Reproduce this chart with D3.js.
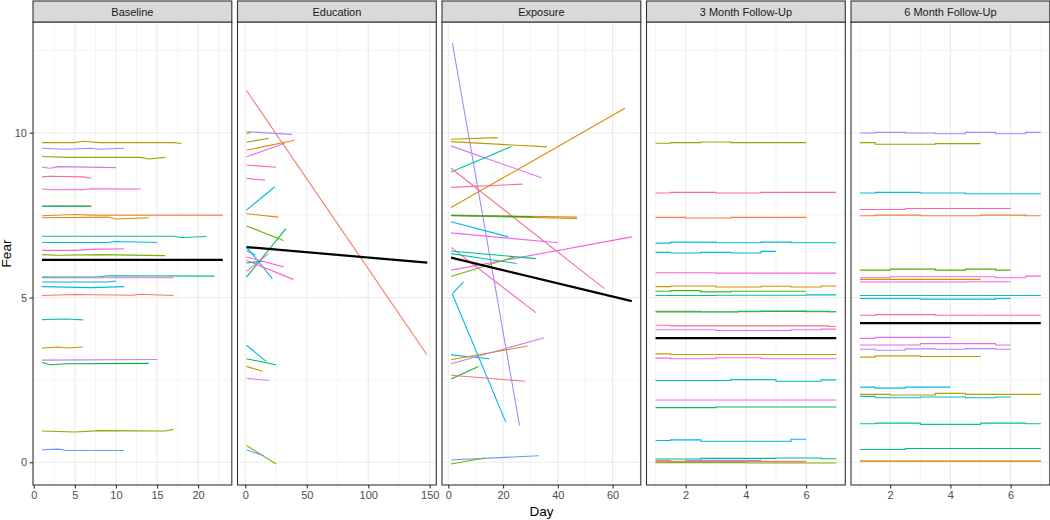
<!DOCTYPE html>
<html>
<head>
<meta charset="utf-8">
<script src="https://cdn.jsdelivr.net/npm/d3@7"></script>
<style>
  body { margin: 0; background: #fff; }
  svg { display: block; font-family: "Liberation Sans", Arial, sans-serif; }
  .grid-major { stroke: #ebebeb; stroke-width: 1.1; }
  .grid-minor { stroke: #ebebeb; stroke-width: 0.55; }
  .panel-border { fill: none; stroke: #333; stroke-width: 1.1; }
  .strip { fill: #d9d9d9; stroke: #333; stroke-width: 1.1; }
  .strip-label { font-size: 11px; fill: #1a1a1a; }
  .axis text { font-size: 11px; fill: #4d4d4d; }
  .axis line { stroke: #333; stroke-width: 1.1; }
  .axis path { display: none; }
  .title { font-size: 13.5px; fill: #000; }
  .pline { fill: none; stroke-width: 1.1; }
  .mean { fill: none; stroke: #000; stroke-width: 2.2; }
</style>
</head>
<body>
<div id="chart"></div>
<script>
// facets in display order
const phases = ['Baseline', 'Education', 'Exposure', '3 Month Follow-Up', '6 Month Follow-Up'];
const xTicks = [[0, 5, 10, 15, 20], [0, 50, 100, 150], [0, 20, 40, 60], [2, 4, 6], [2, 4, 6]];
const yTicks = [0, 5, 10];
const nParticipants = 48;

// [participant id, [[day, fear], ...]]
const baselineLines = [
  [9, [[1, 9.70], [5, 9.70], [6, 9.74], [8, 9.70], [17, 9.70], [18, 9.67]]],
  [35, [[1, 9.53], [4, 9.50], [7, 9.53], [8, 9.50], [11, 9.53]]],
  [12, [[1, 9.28], [4, 9.25], [13, 9.25], [14, 9.20], [16, 9.25]]],
  [39, [[1, 8.95], [2, 8.92], [3, 8.97], [10, 8.94]]],
  [46, [[1, 8.66], [2, 8.68], [6, 8.66], [7, 8.62]]],
  [43, [[1, 8.30], [2, 8.27], [6, 8.27], [7, 8.30], [13, 8.29]]],
  [5, [[1, 7.78], [7, 7.78]]],
  [24, [[1, 7.76], [2, 7.76], [3, 7.77], [7, 7.76]]],
  [3, [[1, 7.48], [5, 7.52], [7, 7.50], [23, 7.50]]],
  [7, [[1, 7.42], [9, 7.44], [10, 7.38], [14, 7.42]]],
  [22, [[1, 6.86], [17, 6.86], [18, 6.82], [21, 6.85]]],
  [27, [[1, 6.67], [9, 6.67], [10, 6.70], [15, 6.67]]],
  [42, [[1, 6.43], [5, 6.43], [7, 6.46], [11, 6.48]]],
  [13, [[1, 6.30], [3, 6.28], [8, 6.30], [16, 6.27]]],
  [40, [[1, 5.60], [17, 5.60]]],
  [20, [[1, 5.62], [8, 5.63], [9, 5.66], [22, 5.65]]],
  [31, [[1, 5.47], [9, 5.47], [10, 5.50]]],
  [28, [[1, 5.33], [7, 5.30], [11, 5.33]]],
  [1, [[1, 5.06], [5, 5.09], [12, 5.07], [13, 5.10], [17, 5.06]]],
  [25, [[1, 4.33], [4, 4.35], [6, 4.32]]],
  [7, [[1, 3.47], [3, 3.50], [4, 3.47], [6, 3.50]]],
  [37, [[1, 3.10], [15, 3.12]]],
  [17, [[1, 3.03], [2, 2.96], [4, 2.99], [14, 3.00]]],
  [12, [[1, 0.95], [5, 0.92], [8, 0.96], [16, 0.95], [17, 1.00]]],
  [33, [[1, 0.38], [3, 0.40], [4, 0.36], [11, 0.36]]]
];

const educationLines = [
  [1, [[1, 11.28], [147.6, 3.27]]],
  [35, [[1, 10.03], [38, 9.95]]],
  [9, [[1, 9.97], [5, 10.02]]],
  [12, [[1, 9.71], [19, 9.83]]],
  [5, [[1, 9.47], [40, 9.77]]],
  [39, [[1, 9.27], [32, 9.68]]],
  [46, [[1, 9.02], [25, 8.95]]],
  [43, [[1, 8.61], [16, 8.56]]],
  [25, [[1, 7.65], [24, 8.36]]],
  [4, [[1, 7.54], [27, 7.44]]],
  [14, [[1, 7.17], [31, 6.73]]],
  [18, [[1, 5.62], [33, 7.09]]],
  [28, [[1, 6.53], [22, 5.57]]],
  [42, [[1, 6.23], [31, 5.93]]],
  [44, [[1, 6.13], [39, 5.55]]],
  [40, [[1, 5.80], [19, 6.33]]],
  [20, [[1, 6.05], [14, 6.10]]],
  [29, [[1, 6.42], [8, 6.30]]],
  [27, [[1, 3.55], [17, 3.06]]],
  [17, [[1, 3.14], [25, 2.96]]],
  [7, [[1, 2.91], [14, 2.76]]],
  [37, [[1, 2.55], [19, 2.48]]],
  [12, [[1, 0.51], [25, -0.05]]],
  [33, [[1, 0.38], [15, 0.20]]]
];

const exposureLines = [
  [35, [[1.5, 12.72], [26, 1.12]]],
  [9, [[1, 9.80], [18, 9.85]]],
  [8, [[1, 9.73], [36, 9.57]]],
  [39, [[1, 9.60], [34, 8.63]]],
  [23, [[1, 8.81], [23, 9.58]]],
  [5, [[1, 7.73], [64.5, 10.74]]],
  [47, [[1, 8.92], [57, 5.27]]],
  [46, [[1, 8.34], [27, 8.44]]],
  [3, [[1, 7.50], [47, 7.44]]],
  [7, [[1, 7.48], [47, 7.40]]],
  [17, [[1, 7.49], [31, 7.45]]],
  [29, [[1, 7.30], [22, 6.84]]],
  [40, [[1, 6.96], [40, 6.66]]],
  [43, [[1, 6.52], [32, 4.54]]],
  [42, [[1, 5.83], [67, 6.84]]],
  [21, [[1, 6.41], [32, 6.18]]],
  [23, [[1, 6.33], [25, 6.03]]],
  [13, [[1, 5.64], [24, 6.23]]],
  [28, [[1.5, 5.12], [5.5, 5.47]]],
  [29, [[1.5, 5.10], [21, 1.22]]],
  [25, [[1, 3.26], [15, 3.14]]],
  [7, [[1, 3.11], [29, 3.53]]],
  [37, [[1, 2.99], [35, 3.78]]],
  [17, [[1, 2.53], [11, 2.91]]],
  [1, [[1, 2.64], [28, 2.46]]],
  [33, [[1, 0.07], [33, 0.20]]],
  [12, [[1, -0.05], [13.4, 0.13]]]
];

const month3Lines = [
  [12, [[1, 9.68], [2, 9.70], [3, 9.72], [4, 9.70], [6, 9.70]]],
  [46, [[1, 8.17], [2, 8.19], [4, 8.17], [5, 8.19], [7, 8.19]]],
  [3, [[1, 7.43], [3, 7.41], [4, 7.43], [6, 7.43]]],
  [26, [[1, 6.65], [2, 6.68], [4, 6.66], [5, 6.68], [6, 6.66], [7, 6.66]]],
  [28, [[1, 6.37], [2, 6.35], [3, 6.37], [4, 6.35], [5, 6.40]]],
  [42, [[1, 5.75], [5, 5.74], [7, 5.74]]],
  [7, [[1, 5.33], [2, 5.35], [4, 5.32], [5, 5.34], [6, 5.32], [7, 5.35]]],
  [15, [[1, 5.19], [2, 5.21], [3, 5.17], [4, 5.19], [6, 5.19]]],
  [23, [[1, 5.06], [5, 5.07], [7, 5.08]]],
  [8, [[1, 4.58], [4, 4.57], [5, 4.59], [7, 4.57]]],
  [20, [[1, 4.56], [6.5, 4.58], [7, 4.57]]],
  [47, [[1, 4.16], [2, 4.14], [6.5, 4.14], [7, 4.12]]],
  [39, [[1, 4.02], [5, 4.00], [6, 4.02], [7, 4.04]]],
  [7, [[1, 3.29], [2, 3.27], [4, 3.27], [7, 3.27]]],
  [41, [[1, 3.16], [2, 3.14], [4, 3.17], [5, 3.14], [7, 3.14]]],
  [24, [[1, 2.48], [3, 2.48], [4, 2.51], [6, 2.46], [7, 2.50]]],
  [40, [[1, 1.89], [7, 1.89]]],
  [18, [[1, 1.66], [5, 1.68], [7, 1.68]]],
  [29, [[1, 0.66], [2, 0.68], [3, 0.64], [5, 0.64], [6, 0.70]]],
  [20, [[1, 0.10], [4, 0.12], [6, 0.13], [7, 0.11]]],
  [35, [[1, 0.03], [3, 0.06], [6, 0.03]]],
  [1, [[1, 0.05], [2, 0.02], [6, 0.02]]],
  [12, [[1, -0.01], [7, -0.02]]]
];

const month6Lines = [
  [35, [[1, 9.99], [2, 10.01], [3, 9.99], [4, 9.97], [5, 10.01], [6, 9.97], [7, 10.01]]],
  [12, [[1, 9.70], [2, 9.65], [5, 9.67]]],
  [27, [[1, 8.17], [2, 8.19], [4, 8.17], [5, 8.15], [7, 8.15]]],
  [45, [[1, 7.67], [4, 7.70], [6, 7.70]]],
  [3, [[1, 7.48], [2, 7.50], [4, 7.48], [6, 7.50], [7, 7.48]]],
  [15, [[1, 5.83], [3, 5.86], [4, 5.83], [5, 5.86], [6, 5.83]]],
  [41, [[1, 5.60], [3, 5.63], [5, 5.63], [6, 5.60], [7, 5.65]]],
  [7, [[1, 5.55], [5, 5.55]]],
  [43, [[1, 5.47], [3, 5.47], [6, 5.48]]],
  [23, [[1, 5.06], [7, 5.06]]],
  [29, [[1, 4.97], [5, 4.95], [6, 4.97]]],
  [47, [[1, 4.46], [2, 4.48], [5, 4.46], [7, 4.46]]],
  [38, [[1, 3.76], [2, 3.79], [4, 3.79]]],
  [41, [[1, 3.56], [5, 3.60], [6, 3.56]]],
  [36, [[1, 3.43], [2, 3.40], [3, 3.44], [4, 3.43], [5, 3.45], [6, 3.43]]],
  [7, [[1, 3.19], [2, 3.23], [4, 3.21], [5, 3.21]]],
  [28, [[1, 2.28], [2, 2.25], [3, 2.28], [4, 2.28]]],
  [9, [[1, 2.06], [3, 2.04], [4, 2.09], [5, 2.06], [7, 2.06]]],
  [25, [[1, 2.00], [2, 1.96], [4, 1.98], [5, 1.96], [6, 1.98]]],
  [22, [[1, 1.17], [2, 1.19], [4, 1.15], [6, 1.19], [7, 1.17]]],
  [19, [[1, 0.39], [4, 0.42], [7, 0.42]]],
  [10, [[1, 0.04], [7, 0.04]]],
  [4, [[1, 0.03], [7, 0.03]]]
];

// group-level fitted trend per phase
const meanLines = [
  [[1, 6.14], [23, 6.14]],
  [[1, 6.53], [148, 6.06]],
  [[1, 6.21], [67, 4.89]],
  [[1, 3.77], [7, 3.77]],
  [[1, 4.22], [7, 4.22]]
];

const phaseLines = [baselineLines, educationLines, exposureLines, month3Lines, month6Lines];

// ggplot-style hue palette (polar Luv, c=100, l=65)
function hueColor(h) {
  const L = 65, C = 100, rad = h * Math.PI / 180;
  const u = C * Math.cos(rad), v = C * Math.sin(rad);
  const Xn = 95.047, Yn = 100, Zn = 108.883;
  const den = Xn + 15 * Yn + 3 * Zn;
  const un = 4 * Xn / den, vn = 9 * Yn / den;
  const Y = Math.pow((L + 16) / 116, 3);
  const up = u / (13 * L) + un, vp = v / (13 * L) + vn;
  const X = Y * 9 * up / (4 * vp);
  const Z = Y * (12 - 3 * up - 20 * vp) / (4 * vp);
  const lin = [
    3.2404542 * X - 1.5371385 * Y - 0.4985314 * Z,
    -0.9692660 * X + 1.8760108 * Y + 0.0415560 * Z,
    0.0556434 * X - 0.2040259 * Y + 1.0572252 * Z
  ];
  const [r, g, b] = lin.map(c => {
    c = Math.max(0, Math.min(1, c));
    c = c <= 0.0031308 ? 12.92 * c : 1.055 * Math.pow(c, 1 / 2.4) - 0.055;
    return Math.round(c * 255);
  });
  return d3.rgb(r, g, b).formatHex();
}
const color = id => hueColor(15 + (id - 1) * 360 / nParticipants);

const W = 1050, H = 520;
const plotLeft = 33, plotTop = 22, plotBottom = 485, stripTop = 1;
const step = 204.5, panelW = 198.8;

const svg = d3.select('#chart').append('svg')
  .attr('width', W)
  .attr('height', H);

svg.append('rect').attr('width', W).attr('height', H).attr('fill', '#fff');

// shared y scale with ggplot's 5% expansion
const allY = phaseLines.flatMap(ls => ls.flatMap(l => l[1].map(p => p[1])))
  .concat(meanLines.flatMap(m => m.map(p => p[1])));
const yMin = d3.min(allY), yMax = d3.max(allY);
const yPad = (yMax - yMin) * 0.05;
const y = d3.scaleLinear().domain([yMin - yPad, yMax + yPad]).range([plotBottom, plotTop]);

phases.forEach((name, i) => {
  const x0 = plotLeft + i * step;
  const lines = phaseLines[i];
  const days = lines.flatMap(l => l[1].map(p => p[0])).concat(meanLines[i].map(p => p[0]));
  const xMin = d3.min(days), xMax = d3.max(days);
  const xPad = (xMax - xMin) * 0.05;
  const x = d3.scaleLinear().domain([xMin - xPad, xMax + xPad]).range([x0, x0 + panelW]);

  const g = svg.append('g');

  // grid: minor halfway between majors
  const xt = xTicks[i];
  const dx = xt[1] - xt[0];
  const xMinor = d3.range(xt[0] - dx / 2, xMax + xPad, dx).filter(v => v > x.domain()[0] && v < x.domain()[1]);
  const yMinor = [2.5, 7.5, 12.5];

  g.selectAll('.ymn').data(yMinor).join('line')
    .attr('class', 'grid-minor')
    .attr('x1', x0).attr('x2', x0 + panelW)
    .attr('y1', d => y(d)).attr('y2', d => y(d));
  g.selectAll('.xmn').data(xMinor).join('line')
    .attr('class', 'grid-minor')
    .attr('x1', d => x(d)).attr('x2', d => x(d))
    .attr('y1', plotTop).attr('y2', plotBottom);
  g.selectAll('.ymj').data(yTicks).join('line')
    .attr('class', 'grid-major')
    .attr('x1', x0).attr('x2', x0 + panelW)
    .attr('y1', d => y(d)).attr('y2', d => y(d));
  g.selectAll('.xmj').data(xt).join('line')
    .attr('class', 'grid-major')
    .attr('x1', d => x(d)).attr('x2', d => x(d))
    .attr('y1', plotTop).attr('y2', plotBottom);

  // participant trajectories
  const curve = i >= 3 ? d3.curveStep : d3.curveLinear;
  const pl = d3.line().x(d => x(d[0])).y(d => y(d[1])).curve(curve);
  g.selectAll('.pline').data(lines).join('path')
    .attr('class', 'pline')
    .attr('stroke', d => color(d[0]))
    .attr('d', d => pl(d[1]));

  // mean trend
  g.append('path')
    .attr('class', 'mean')
    .attr('d', d3.line().x(d => x(d[0])).y(d => y(d[1]))(meanLines[i]));

  g.append('rect')
    .attr('class', 'panel-border')
    .attr('x', x0).attr('y', plotTop)
    .attr('width', panelW).attr('height', plotBottom - plotTop);

  // strip
  g.append('rect')
    .attr('class', 'strip')
    .attr('x', x0).attr('y', stripTop)
    .attr('width', panelW).attr('height', plotTop - stripTop);
  g.append('text')
    .attr('class', 'strip-label')
    .attr('x', x0 + panelW / 2)
    .attr('y', (stripTop + plotTop) / 2)
    .attr('text-anchor', 'middle')
    .attr('dominant-baseline', 'central')
    .text(name);

  // x axis
  g.append('g')
    .attr('class', 'axis')
    .attr('transform', `translate(0,${plotBottom})`)
    .call(d3.axisBottom(x).tickValues(xt).tickSize(3.5).tickPadding(2.5).tickFormat(d3.format('d')));

  if (i === 0) {
    g.append('g')
      .attr('class', 'axis')
      .attr('transform', `translate(${x0},0)`)
      .call(d3.axisLeft(y).tickValues(yTicks).tickSize(3.5).tickPadding(2.5));
  }
});

svg.append('text')
  .attr('class', 'title')
  .attr('x', plotLeft + (4 * step + panelW) / 2)
  .attr('y', 516)
  .attr('text-anchor', 'middle')
  .text('Day');

svg.append('text')
  .attr('class', 'title')
  .attr('transform', `translate(11,${(plotTop + plotBottom) / 2}) rotate(-90)`)
  .attr('text-anchor', 'middle')
  .text('Fear');
</script>
</body>
</html>
